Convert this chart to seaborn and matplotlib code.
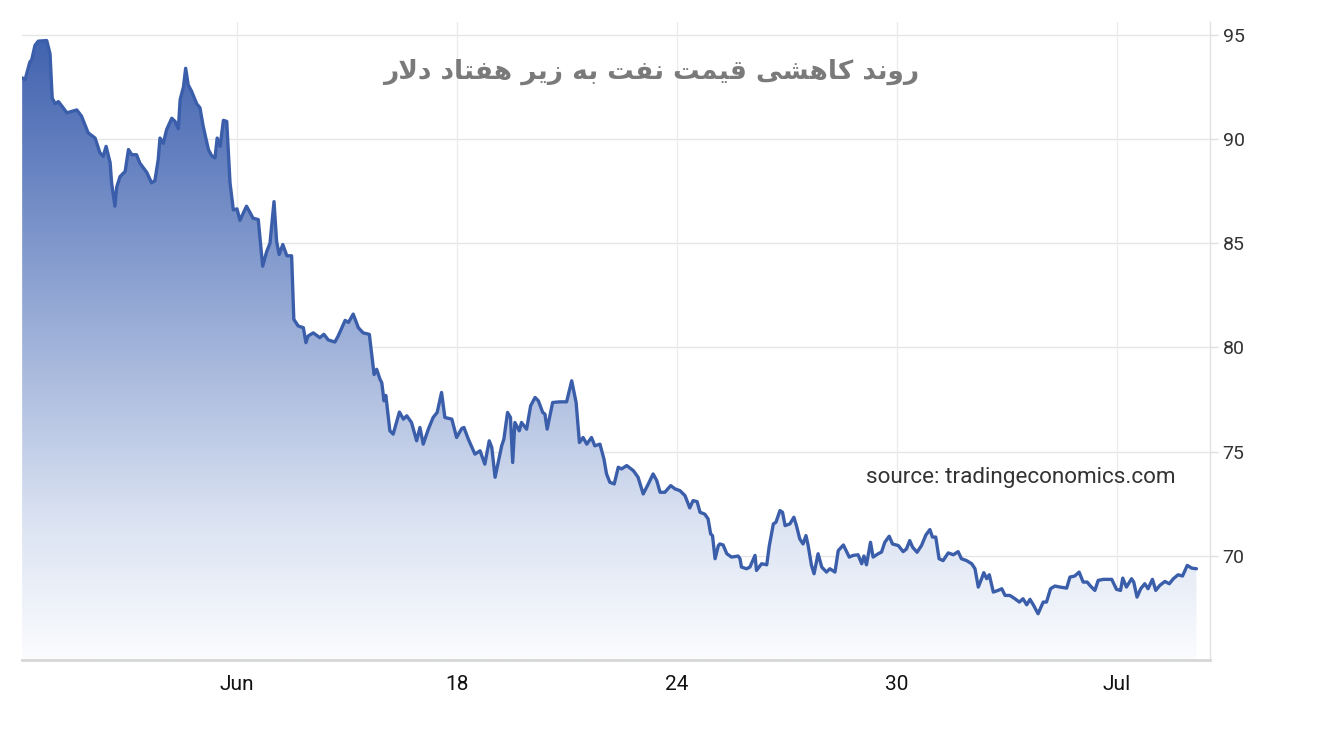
import numpy as np
import matplotlib
matplotlib.use("Agg")
import matplotlib.pyplot as plt
import seaborn as sns
from matplotlib.colors import LinearSegmentedColormap

# ---------------- data (day of period, price) ----------------
days = [6.14, 6.22, 6.35, 6.40, 6.49, 6.58, 6.81, 6.90, 6.96, 7.04, 7.13, 7.26, 7.36, 7.63, 7.76,
        7.94, 8.13, 8.26, 8.35, 8.43, 8.54, 8.58, 8.67, 8.72, 8.81, 8.95, 9.04, 9.13, 9.26, 9.35,
        9.54, 9.67, 9.76, 9.85, 9.90, 9.99, 10.08, 10.22, 10.31, 10.40, 10.45, 10.54, 10.60, 10.67,
        10.76, 10.90, 10.99, 11.08, 11.22, 11.31, 11.40, 11.46, 11.54, 11.63, 11.72, 11.81, 11.90,
        12.00, 12.08, 12.26, 12.44, 12.58, 12.70, 12.81, 12.90, 13.01, 13.08, 13.15, 13.25, 13.36,
        13.49, 13.55, 13.67, 13.81, 13.88, 13.94, 14.08, 14.26, 14.37, 14.49, 14.67, 14.76, 14.95,
        15.04, 15.17, 15.31, 15.44, 15.61, 15.67, 15.74, 15.81, 15.90, 15.95, 16.01, 16.06, 16.17,
        16.26, 16.43, 16.54, 16.63, 16.76, 16.90, 16.99, 17.08, 17.22, 17.35, 17.46, 17.58, 17.67,
        17.86, 17.99, 18.13, 18.19, 18.31, 18.49, 18.63, 18.76, 18.88, 18.95, 19.04, 19.22, 19.28,
        19.38, 19.46, 19.52, 19.58, 19.70, 19.76, 19.90, 20.01, 20.13, 20.22, 20.34, 20.40, 20.46,
        20.61, 20.81, 20.99, 21.13, 21.25, 21.34, 21.44, 21.54, 21.67, 21.76, 21.90, 22.01, 22.08,
        22.17, 22.29, 22.40, 22.49, 22.63, 22.81, 22.94, 23.08, 23.22, 23.35, 23.45, 23.54, 23.67,
        23.83, 23.95, 24.08, 24.22, 24.35, 24.44, 24.55, 24.63, 24.76, 24.85, 24.92, 24.97, 25.04,
        25.13, 25.17, 25.26, 25.36, 25.49, 25.67, 25.72, 25.76, 25.90, 25.99, 26.13, 26.17, 26.31,
        26.45, 26.52, 26.63, 26.70, 26.81, 26.88, 26.95, 27.08, 27.19, 27.26, 27.35, 27.44, 27.52,
        27.58, 27.67, 27.74, 27.85, 27.95, 28.08, 28.17, 28.31, 28.40, 28.54, 28.70, 28.81, 28.94,
        29.04, 29.10, 29.17, 29.28, 29.35, 29.49, 29.58, 29.67, 29.79, 29.88, 30.04, 30.17, 30.26,
        30.35, 30.43, 30.55, 30.67, 30.79, 30.90, 30.97, 31.06, 31.15, 31.26, 31.40, 31.54, 31.67,
        31.76, 31.90, 32.04, 32.13, 32.22, 32.31, 32.37, 32.45, 32.52, 32.63, 32.76, 32.86, 32.95,
        33.08, 33.22, 33.34, 33.44, 33.54, 33.63, 33.72, 33.85, 33.99, 34.08, 34.19, 34.31, 34.45,
        34.63, 34.72, 34.85, 34.97, 35.08, 35.19, 35.28, 35.40, 35.49, 35.63, 35.86, 35.99, 36.10,
        36.16, 36.26, 36.40, 36.46, 36.55, 36.65, 36.76, 36.85, 36.97, 37.06, 37.17, 37.31, 37.43,
        37.54, 37.67, 37.79, 37.92, 38.04, 38.17]

prices = [92.94, 92.85, 93.70, 93.80, 94.50, 94.70, 94.73, 94.10, 91.97, 91.70, 91.80, 91.50, 91.26, 91.40, 91.10,
          90.30, 90.05, 89.35, 89.17, 89.65, 88.87, 87.90, 86.78, 87.70, 88.20, 88.45, 89.50, 89.25, 89.25, 88.85,
          88.40, 87.90, 88.00, 89.00, 90.05, 89.80, 90.45, 91.00, 90.85, 90.50, 91.90, 92.50, 93.40, 92.60,
          92.30, 91.70, 91.50, 90.60, 89.50, 89.20, 89.10, 90.05, 89.65, 90.90, 90.85, 87.90, 86.60,
          86.65, 86.10, 86.78, 86.20, 86.14, 83.90, 84.60, 85.00, 87.00, 85.10, 84.46, 84.94, 84.40,
          84.40, 81.35, 81.03, 80.95, 80.23, 80.55, 80.70, 80.47, 80.63, 80.36, 80.26, 80.55, 81.30,
          81.20, 81.60, 80.95, 80.70, 80.63, 79.75, 78.70, 78.95, 78.48, 78.30, 77.44, 77.70, 76.00,
          75.84, 76.90, 76.56, 76.72, 76.40, 75.52, 76.16, 75.36, 76.08, 76.64, 76.88, 77.84, 76.64,
          76.56, 75.68, 76.11, 76.16, 75.60, 74.88, 75.04, 74.40, 75.52, 75.20, 73.77, 75.28, 75.60,
          76.88, 76.64, 74.48, 76.40, 76.00, 76.40, 76.08, 77.20, 77.60, 77.44, 76.88, 76.80, 76.08,
          77.36, 77.39, 77.39, 78.40, 77.36, 75.44, 75.68, 75.36, 75.68, 75.28, 75.36, 74.64, 73.93,
          73.53, 73.45, 74.25, 74.17, 74.33, 74.09, 73.77, 72.97, 73.45, 73.93, 73.61, 73.05, 73.05,
          73.37, 73.21, 73.13, 72.89, 72.30, 72.65, 72.60, 72.09, 72.00, 71.77, 71.05, 70.97, 69.86,
          70.49, 70.57, 70.52, 70.10, 69.94, 69.99, 69.86, 69.46, 69.38, 69.46, 70.02, 69.30, 69.62,
          69.57, 70.49, 71.53, 71.61, 72.17, 72.09, 71.45, 71.53, 71.85, 71.45, 70.81, 70.57, 70.97,
          70.49, 69.54, 69.14, 70.10, 69.46, 69.22, 69.38, 69.22, 70.25, 70.52, 69.94, 70.02, 70.05,
          69.62, 69.99, 69.57, 70.65, 69.94, 70.10, 70.18, 70.65, 70.94, 70.57, 70.49, 70.20, 70.33,
          70.73, 70.41, 70.17, 70.49, 71.00, 71.26, 70.90, 70.90, 69.86, 69.77, 70.14, 70.05, 70.20,
          69.86, 69.77, 69.62, 69.38, 68.50, 68.90, 69.19, 68.90, 69.09, 68.26, 68.34, 68.42, 68.10,
          68.10, 67.94, 67.78, 67.94, 67.65, 67.91, 67.65, 67.22, 67.78, 67.78, 68.42, 68.55, 68.50,
          68.45, 68.98, 69.03, 69.22, 68.74, 68.74, 68.55, 68.34, 68.82, 68.87, 68.87, 68.39, 68.34,
          68.93, 68.50, 68.90, 68.74, 68.02, 68.42, 68.66, 68.42, 68.87, 68.34, 68.58, 68.77, 68.66,
          68.90, 69.09, 69.03, 69.54, 69.41, 69.38]

tick_days = [12, 18, 24, 30, 36]
tick_labels = ["Jun", "18", "24", "30", "Jul"]
y_ticks = [70, 75, 80, 85, 90, 95]

title_text = "روند کاهشی قیمت نفت به زیر هفتاد دلار"
source_text = "source: tradingeconomics.com"

# ---------------- simple Persian shaping (matplotlib has no shaping) ----------------
FORMS = {
    'ا': ('\uFE8D', '\uFE8E', None, None),
    'ب': ('\uFE8F', '\uFE90', '\uFE91', '\uFE92'),
    'ت': ('\uFE95', '\uFE96', '\uFE97', '\uFE98'),
    'د': ('\uFEA9', '\uFEAA', None, None),
    'ر': ('\uFEAD', '\uFEAE', None, None),
    'ز': ('\uFEAF', '\uFEB0', None, None),
    'ش': ('\uFEB5', '\uFEB6', '\uFEB7', '\uFEB8'),
    'ف': ('\uFED1', '\uFED2', '\uFED3', '\uFED4'),
    'ق': ('\uFED5', '\uFED6', '\uFED7', '\uFED8'),
    'ل': ('\uFEDD', '\uFEDE', '\uFEDF', '\uFEE0'),
    'م': ('\uFEE1', '\uFEE2', '\uFEE3', '\uFEE4'),
    'ن': ('\uFEE5', '\uFEE6', '\uFEE7', '\uFEE8'),
    'ه': ('\uFEE9', '\uFEEA', '\uFEEB', '\uFEEC'),
    'و': ('\uFEED', '\uFEEE', None, None),
    'ی': ('\uFBFC', '\uFBFD', '\uFBFE', '\uFBFF'),
    'ک': ('\uFB8E', '\uFB8F', '\uFB90', '\uFB91'),
}


def shape_word(w):
    units = []
    i = 0
    while i < len(w):
        if w[i] == 'ل' and i + 1 < len(w) and w[i + 1] == 'ا':
            units.append('LA')
            i += 2
        else:
            units.append(w[i])
            i += 1
    out = []
    for k, u in enumerate(units):
        prev = units[k - 1] if k > 0 else None
        nxt = units[k + 1] if k + 1 < len(units) else None
        jp = prev is not None and prev != 'LA' and prev in FORMS and FORMS[prev][2] is not None
        if u == 'LA':
            out.append('\uFEFC' if jp else '\uFEFB')
            continue
        if u not in FORMS:
            out.append(u)
            continue
        f = FORMS[u]
        jn = nxt is not None and f[2] is not None
        if jp and jn:
            out.append(f[3])
        elif jp:
            out.append(f[1])
        elif jn:
            out.append(f[2])
        else:
            out.append(f[0])
    return ''.join(out)


def visual_rtl(s):
    shaped = ' '.join(shape_word(w) for w in s.split(' '))
    return shaped[::-1]


# ---------------- plot ----------------
sns.set_theme(style="white")
plt.rcParams['font.family'] = ['Roboto', 'DejaVu Sans']

W, H = 1321, 733
fig = plt.figure(figsize=(W / 100, H / 100), dpi=100)
ax = fig.add_axes([22 / W, 1 - 660 / H, (1210 - 22) / W, (660 - 22) / H])

x_arr = np.array(days)
y_arr = np.array(prices)
y_min, y_max = 65, 95.62
x_min, x_max = 6.136, 38.54

line_color = '#3b5eab'

# gradient fill under the line
poly = ax.fill_between(x_arr, y_arr, y_min, color='none', lw=0)
cmap = LinearSegmentedColormap.from_list(
    'g', [(0.0, '#fbfcfe'), (0.22, '#dbe3f2'), (0.55, '#97abd6'), (0.8, '#6581c0'), (1.0, '#4162ae')])
grad = np.linspace(0, 1, 512).reshape(-1, 1)
im = ax.imshow(grad, extent=[x_min, x_max, y_min, 95], origin='lower', aspect='auto',
               cmap=cmap, zorder=1, interpolation='bicubic')
im.set_clip_path(poly.get_paths()[0], transform=ax.transData)

sns.lineplot(x=x_arr, y=y_arr, ax=ax, color=line_color, linewidth=2.4,
             estimator=None, sort=False, zorder=3)

ax.set_xlim(x_min, x_max)
ax.set_ylim(y_min, y_max)

# grid
for yv in y_ticks:
    ax.axhline(yv, color='#e6e6e6', lw=1.0, zorder=0.5)
for xv in tick_days:
    ax.axvline(xv, color='#ececf0', lw=1.0, zorder=0.5)

ax.set_xticks(tick_days)
ax.set_xticklabels(tick_labels)
ax.set_yticks(y_ticks)
ax.yaxis.tick_right()
ax.tick_params(axis='x', length=0, pad=11, labelsize=15, labelcolor='#111111')
ax.tick_params(axis='y', length=6, width=1, color='#e0e0e0', pad=3, labelsize=14,
               labelcolor='#333333', right=True, left=False)

for s in ['top', 'left']:
    ax.spines[s].set_visible(False)
ax.spines['right'].set_color('#e2e2e2')
ax.spines['right'].set_linewidth(1.0)
ax.spines['bottom'].set_color('#d6d6d6')
ax.spines['bottom'].set_linewidth(2.0)
ax.set_xlabel('')
ax.set_ylabel('')

# source text
fig.text(866 / W, 1 - 478 / H, source_text, fontsize=16.2,
         color='#333333', ha='left', va='center')

# title
fig.text(651 / W, 1 - 72 / H, visual_rtl(title_text), fontsize=19, fontweight='bold',
         color='#7a7a7a', ha='center', va='center', family=['DejaVu Sans'])

fig.savefig('out.png', dpi=100)
